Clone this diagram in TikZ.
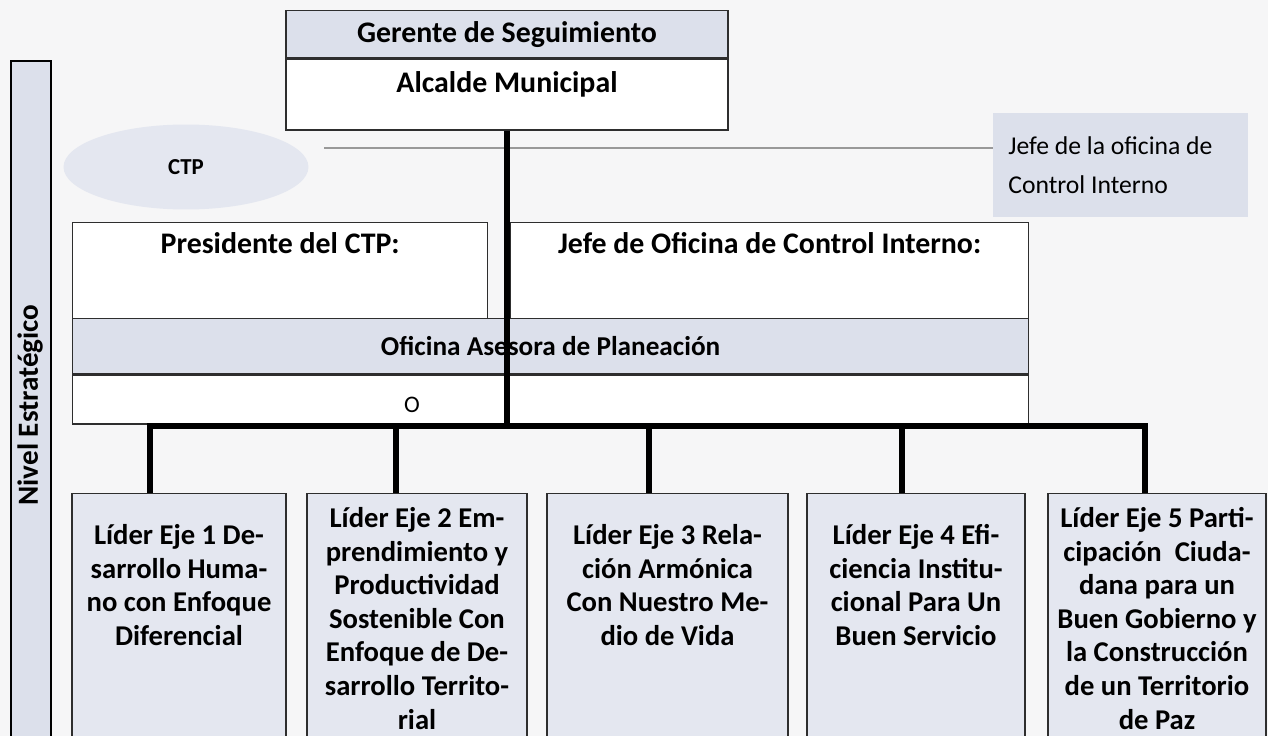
\documentclass[tikz,border=0pt]{standalone}
\usepackage{fontspec}
\setmainfont{Carlito}
\usetikzlibrary{shapes.geometric}

\definecolor{fondo}{HTML}{F6F6F7}
\definecolor{azulgris}{HTML}{DCE0EB}
\definecolor{azulclaro}{HTML}{E4E7F0}
\definecolor{borde}{HTML}{2E2E2E}

\tikzset{
  caja/.style={rectangle, draw=borde, line width=0.8pt, inner sep=0pt,
    font=\bfseries\fontsize{17}{20}\selectfont},
  lider/.style={caja, fill=azulclaro, anchor=north, align=flush center,
    font=\bfseries\fontsize{16.3}{19.1}\selectfont, text depth=6cm},
  tronco/.style={line width=3.4pt, black, line join=miter},
  guia/.style={line width=0.6pt, gray!80},
}

\begin{document}
\begin{tikzpicture}[x=0.02cm, y=-0.02cm]
	\fill[fondo] (0,0) rectangle (1268,736);
	\useasboundingbox (0,0) rectangle (1268,736);

	% nivel
	\node[rectangle, draw=black, line width=1.3pt, fill=azulgris, inner sep=0pt,
		minimum width=0.8cm, minimum height=14cm, anchor=north west] (barra) at (10,60) {};
	\node[rotate=90, font=\bfseries\fontsize{16.6}{19}\selectfont] (nivel) at (30,405) {Nivel Estratégico};

	% cabeza
	\node[caja, fill=azulgris, minimum width=8.84cm, minimum height=0.94cm, anchor=north] (gerente) at (507,10) {Gerente de Seguimiento};
	\node[caja, fill=white, minimum width=8.84cm, text height=0.66cm, text depth=0.76cm, anchor=north] (alcalde) at (gerente.south) {Alcalde Municipal};

	\node[ellipse, fill=azulclaro, inner sep=0pt, minimum width=4.9cm, minimum height=1.7cm,
		font=\bfseries\fontsize{13}{15}\selectfont] (ctp) at (186,167) {CTP};
	\node[rectangle, fill=azulgris, inner xsep=0.3cm, inner ysep=0pt, text width=4.5cm, minimum height=2.08cm,
		align=flush left, anchor=north west, font=\fontsize{14.6}{22}\selectfont] (nota) at (993,113) {Jefe de la oficina de\\Control Interno};
	\coordinate (ini) at (324,148);
	\draw[guia] (ini) -- (ini -| nota.west);

	% asesores
	\node[caja, fill=white, minimum width=8.3cm, text height=0.62cm, text depth=1.3cm, anchor=north west] (presidente) at (72,222) {Presidente del CTP:};
	\node[caja, fill=white, minimum width=10.36cm, text height=0.62cm, text depth=1.3cm, anchor=north west] (jefe) at (510,222) {Jefe de Oficina de Control Interno:};
	\node[caja, fill=azulgris, minimum width=19.12cm, minimum height=1.1cm, anchor=north west,
		font=\bfseries\fontsize{15.5}{18}\selectfont] (oficina) at (72,318) {Oficina Asesora de Planeación};
	\node[caja, fill=white, minimum width=19.12cm, minimum height=0.98cm, anchor=north west] (fila) at (oficina.south west) {};
	\node[font=\fontsize{13.5}{15}\selectfont] (letra) at (412,405) {O};

	% lideres
	\node[lider, text width=4.28cm, text height=1.02cm] (l1) at (179,493) {Líder Eje 1 De-\\sarrollo Huma-\\no con Enfoque\\Diferencial};
	\node[lider, text width=4.4cm, text height=0.68cm] (l2) at (417,493) {Líder Eje 2 Em-\\prendimiento y\\Productividad\\Sostenible Con\\Enfoque de De-\\sarrollo Territo-\\rial};
	\node[lider, text width=4.82cm, text height=1.02cm] (l3) at (667.5,493) {Líder Eje 3 Rela-\\ción Armónica\\Con Nuestro Me-\\dio de Vida};
	\node[lider, text width=4.36cm, text height=1.02cm] (l4) at (916,493) {Líder Eje 4 Efi-\\ciencia Institu-\\cional Para Un\\Buen Servicio};
	\node[lider, text width=4.36cm, text height=0.68cm] (l5) at (1157,493) {Líder Eje 5 Parti-\\cipación \ Ciuda-\\dana para un\\Buen Gobierno y\\la Construcción\\de un Territorio\\de Paz};

	\foreach \i/\x in {1/150,2/396,3/649,4/902,5/1145}
		\coordinate (b\i) at (\x,426);

	\draw[tronco] (alcalde.south) -- (alcalde.south |- b1);
	\draw[tronco] (b1 |- l1.north) -- (b1) -- (b5) -- (b5 |- l5.north);
	\foreach \i in {2,3,4}
		\draw[tronco] (b\i) -- (b\i |- l\i.north);
\end{tikzpicture}
\end{document}
